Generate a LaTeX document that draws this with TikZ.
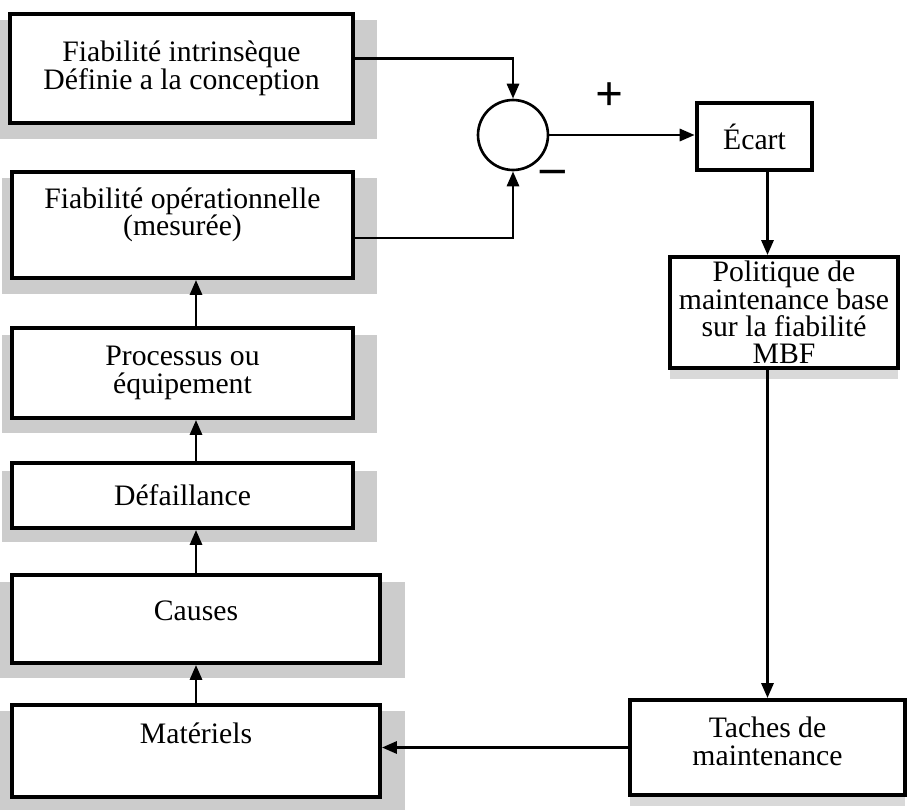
\documentclass[tikz,border=0pt]{standalone}
\usepackage{fontspec}
\setmainfont{Liberation Serif}
\usetikzlibrary{arrows.meta,shadows}

\tikzset{
  box/.style={draw, line width=2.2pt, fill=white, align=center, inner sep=2pt},
  gshadow/.style={drop shadow={opacity=1, fill=gray!40, shadow xshift=0.12cm, shadow yshift=-0.2cm, shadow scale=1.1}},
  lshadow/.style={drop shadow={opacity=1, fill=gray!30, shadow xshift=0cm, shadow yshift=-0.22cm}},
  arr/.style={line width=1.7pt, -{Triangle[length=0.3cm,width=0.24cm]}},
  sign/.style={font=\fontsize{28}{28}\selectfont\bfseries, inner sep=0pt},
}

\begin{document}
\begin{tikzpicture}[x=0.02cm, y=-0.02cm, font=\fontsize{16.9}{15.6}\selectfont]
  \useasboundingbox (0,0) rectangle (907,809);

  % Left column
  \node[box, gshadow, minimum width=6.86cm, minimum height=2.18cm] (fiab) at (181.5,68.5) {Fiabilité intrinsèque\\Définie a la conception};
  \node[box, gshadow, minimum width=6.82cm, minimum height=2.12cm] (fiabop) at (182.5,225) {};
  \node[align=center] (fiabopT) at ([yshift=0.2cm]fiabop) {Fiabilité opérationnelle\\(mesurée)};
  \node[box, gshadow, minimum width=6.82cm, minimum height=1.8cm] (proc) at (182.5,373) {Processus ou\\équipement};
  \node[box, gshadow, minimum width=6.82cm, minimum height=1.3cm] (def) at (182.5,495.5) {Défaillance};
  \node[box, gshadow, minimum width=7.36cm, minimum height=1.76cm] (causes) at (196,619) {};
  \node (causesT) at ([yshift=0.16cm]causes) {Causes};
  \node[box, gshadow, minimum width=7.36cm, minimum height=1.84cm] (mat) at (196,751) {};
  \node (matT) at ([yshift=0.36cm]mat) {Matériels};

  % Comparator
  \node[draw, circle, line width=1.5pt, minimum size=1.4cm, inner sep=0pt] (sum) at (513,135) {};
  \node[sign] (plus) at (610,97) {+};
  \node[sign] (minus) at (553,177) {–};

  % Right column
  \node[box, line width=2.6pt, minimum width=2.3cm, minimum height=1.34cm] (ecart) at (754.5,136.5) {Écart};
  \node[box, lshadow, minimum width=4.56cm, minimum height=2.22cm] (pol) at (784,312.5) {Politique de\\maintenance base\\sur la fiabilité\\MBF};
  \node[box, lshadow, minimum width=5.5cm, minimum height=1.9cm] (taches) at (767.5,747.5) {};
  \node[align=center] (tachesT) at ([yshift=0.12cm]taches) {Taches de\\maintenance};

  % Chain of causes
  \draw[arr] (mat.north) -- (causes.south);
  \draw[arr] (causes.north) -- (causes.north |- def.south);
  \draw[arr] (def.north -| causes) -- (proc.south -| causes);
  \draw[arr] (proc.north -| causes) -- (fiabop.south -| causes);

  % Comparison
  \draw[arr] ([yshift=0.21cm]fiab.east) -| (sum.north);
  \draw[arr] ([yshift=-0.26cm]fiabop.east) -| (sum.south);
  \draw[arr] (sum.east) -- (sum.east -| ecart.west);

  % Feedback loop
  \draw[arr] (ecart.south -| taches) -- (pol.north -| taches);
  \draw[arr] (pol.south -| taches) -- (taches.north);
  \draw[arr] (taches.west) -- (taches.west -| mat.east);

\end{tikzpicture}
\end{document}
